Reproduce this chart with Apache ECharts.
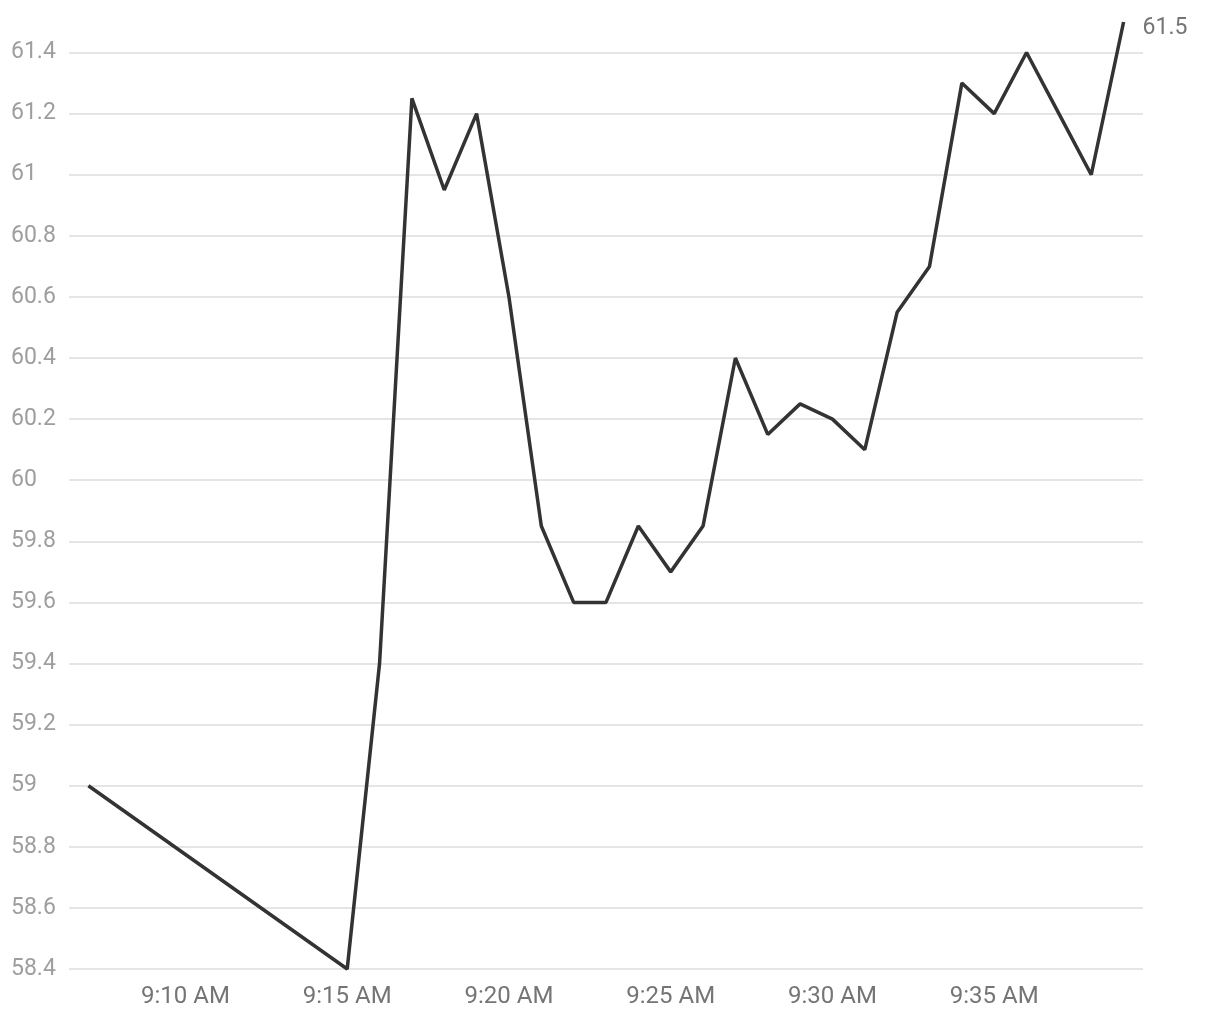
<!DOCTYPE html>
<html>
<head>
<meta charset="utf-8">
<title>Price</title>
<script src="https://cdn.jsdelivr.net/npm/echarts@6/dist/echarts.min.js"></script>
<style>
  html, body { margin: 0; padding: 0; background: #fff; }
  #main { width: 1220px; height: 1020px; }
</style>
</head>
<body>
<div id="main"></div>
<script>
// data
const times = ['9:07', '9:15', '9:16', '9:17', '9:18', '9:19', '9:20', '9:21', '9:22', '9:23',
  '9:24', '9:25', '9:26', '9:27', '9:28', '9:29', '9:30', '9:31', '9:32', '9:33',
  '9:34', '9:35', '9:36', '9:37', '9:38', '9:39'];
const prices = [59.0, 58.4, 59.4, 61.25, 60.95, 61.2, 60.6, 59.85, 59.6, 59.6,
  59.85, 59.7, 59.85, 60.4, 60.15, 60.25, 60.2, 60.1, 60.55, 60.7,
  61.3, 61.2, 61.4, 61.2, 61.0, 61.5];
const timeTicks = ['9:10', '9:15', '9:20', '9:25', '9:30', '9:35'];
const axisStart = '9:06.4';
const axisEnd = '9:39.6';

// minutes since midnight
function toMin(s) {
  const p = s.split(':');
  return Number(p[0]) * 60 + Number(p[1]);
}

function fmtMin(v) {
  let h = Math.floor(v / 60);
  const m = Math.round(v - h * 60);
  const ap = h >= 12 ? 'PM' : 'AM';
  h = h % 12 || 12;
  return h + ':' + String(m).padStart(2, '0') + ' ' + ap;
}

const seriesData = times.map((t, i) => [toMin(t), prices[i]]);

const chart = echarts.init(document.getElementById('main'));

const font = 'Roboto, "Noto Sans", sans-serif';

chart.setOption({
  animation: false,
  backgroundColor: '#ffffff',
  grid: { left: 69, right: 77, top: 22, bottom: 51, outerBoundsMode: 'none' },
  xAxis: {
    type: 'value',
    min: toMin(axisStart),
    max: toMin(axisEnd),
    axisLine: { show: false },
    axisTick: { show: false },
    splitLine: { show: false },
    axisLabel: {
      color: '#757575',
      fontFamily: font,
      fontSize: 24,
      margin: 16,
      hideOverlap: false,
      customValues: timeTicks.map(toMin),
      formatter: fmtMin
    }
  },
  yAxis: {
    type: 'value',
    min: 58.4,
    max: 61.5,
    interval: 0.2,
    axisLine: { show: false },
    axisTick: { show: false },
    splitLine: {
      show: true,
      showMaxLine: false,
      lineStyle: { color: '#e5e5e5', width: 2 }
    },
    axisLabel: {
      color: '#9e9e9e',
      fontFamily: font,
      fontSize: 23,
      align: 'left',
      margin: 58,
      showMaxLabel: false,
      formatter: v => String(Math.round(v * 10) / 10)
    }
  },
  series: [{
    type: 'line',
    data: seriesData,
    showSymbol: false,
    symbol: 'none',
    clip: false,
    lineStyle: { color: '#333333', width: 3.5 },
    endLabel: {
      show: true,
      color: '#757575',
      fontFamily: font,
      fontSize: 23,
      distance: 19,
      offset: [0, 6],
      formatter: p => String(p.value[1])
    }
  }]
});
</script>
</body>
</html>
